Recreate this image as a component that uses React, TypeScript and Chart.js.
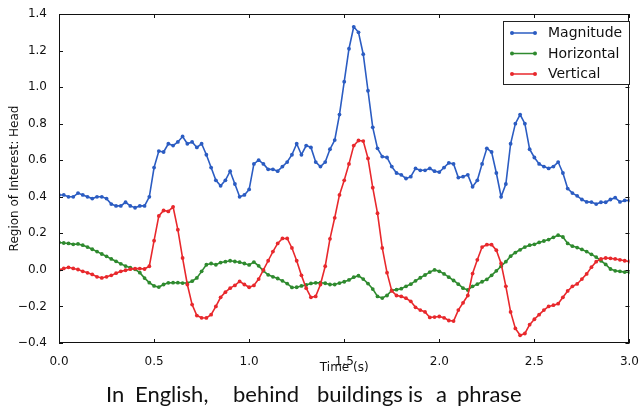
import React, { useEffect, useRef } from 'react';
import { Chart, registerables } from 'chart.js';

Chart.register(...registerables);

const timeValues = [
  0, 0.025, 0.05, 0.075, 0.1, 0.125, 0.15, 0.175, 0.2, 0.225,
  0.25, 0.275, 0.3, 0.325, 0.35, 0.375, 0.4, 0.425, 0.45, 0.475,
  0.5, 0.525, 0.55, 0.575, 0.6, 0.625, 0.65, 0.675, 0.7, 0.725,
  0.75, 0.775, 0.8, 0.825, 0.85, 0.875, 0.9, 0.925, 0.95, 0.975,
  1.0, 1.025, 1.05, 1.075, 1.1, 1.125, 1.15, 1.175, 1.2, 1.225,
  1.25, 1.275, 1.3, 1.325, 1.35, 1.375, 1.4, 1.425, 1.45, 1.475,
  1.5, 1.525, 1.55, 1.575, 1.6, 1.625, 1.65, 1.675, 1.7, 1.725,
  1.75, 1.775, 1.8, 1.825, 1.85, 1.875, 1.9, 1.925, 1.95, 1.975,
  2.0, 2.025, 2.05, 2.075, 2.1, 2.125, 2.15, 2.175, 2.2, 2.225,
  2.25, 2.275, 2.3, 2.325, 2.35, 2.375, 2.4, 2.425, 2.45, 2.475,
  2.5, 2.525, 2.55, 2.575, 2.6, 2.625, 2.65, 2.675, 2.7, 2.725,
  2.75, 2.775, 2.8, 2.825, 2.85, 2.875, 2.9, 2.925, 2.95, 2.975,
  3.0,
];

const magnitude = [
  0.41, 0.41, 0.40, 0.40, 0.42, 0.41, 0.40, 0.39, 0.40, 0.40,
  0.39, 0.36, 0.35, 0.35, 0.37, 0.35, 0.34, 0.35, 0.35, 0.40,
  0.56, 0.65, 0.645, 0.69, 0.68, 0.70, 0.73, 0.69, 0.70, 0.67,
  0.69, 0.63, 0.56, 0.49, 0.46, 0.49, 0.54, 0.47, 0.40, 0.41,
  0.44, 0.58, 0.60, 0.58, 0.55, 0.55, 0.54, 0.565, 0.59, 0.63,
  0.69, 0.63, 0.68, 0.67, 0.59, 0.565, 0.59, 0.66, 0.71, 0.85,
  1.03, 1.21, 1.33, 1.30, 1.18, 0.98, 0.78, 0.665, 0.62, 0.615,
  0.565, 0.53, 0.52, 0.50, 0.51, 0.555, 0.545, 0.545, 0.555, 0.54,
  0.535, 0.56, 0.585, 0.58, 0.505, 0.51, 0.52, 0.455, 0.49, 0.58,
  0.665, 0.645, 0.53, 0.40, 0.47, 0.69, 0.80, 0.85, 0.80, 0.66,
  0.615, 0.58, 0.565, 0.555, 0.565, 0.59, 0.53, 0.445, 0.42, 0.405,
  0.385, 0.372, 0.371, 0.36, 0.37, 0.37, 0.385, 0.395, 0.372, 0.38,
  0.38,
];

const horizontal = [
  0.15, 0.147, 0.145, 0.14, 0.142, 0.135, 0.125, 0.113, 0.10, 0.087,
  0.074, 0.06, 0.047, 0.033, 0.021, 0.012, 0.003, -0.015, -0.045, -0.07,
  -0.088, -0.094, -0.08, -0.071, -0.07, -0.07, -0.072, -0.072, -0.062, -0.044,
  -0.008, 0.028, 0.035, 0.028, 0.04, 0.045, 0.05, 0.046, 0.042, 0.035,
  0.027, 0.043, 0.022, -0.005, -0.027, -0.038, -0.047, -0.06, -0.075, -0.096,
  -0.095, -0.088, -0.082, -0.074, -0.071, -0.07, -0.073, -0.08, -0.08, -0.072,
  -0.065, -0.055, -0.04, -0.032, -0.05, -0.075, -0.105, -0.145, -0.154, -0.14,
  -0.112, -0.108, -0.103, -0.09, -0.078, -0.06, -0.043, -0.028, -0.012, 0.0,
  -0.008, -0.022, -0.04, -0.058, -0.078, -0.1, -0.11, -0.09, -0.078, -0.065,
  -0.052, -0.03, -0.005, 0.02, 0.045, 0.075, 0.095, 0.11, 0.125, 0.135,
  0.14, 0.15, 0.158, 0.166, 0.178, 0.19, 0.18, 0.145, 0.13, 0.122,
  0.112, 0.1, 0.085, 0.07, 0.05, 0.03, 0.005, -0.005, -0.008, -0.012,
  -0.013,
];

const vertical = [
  0.0, 0.008, 0.014, 0.008, 0.002, -0.008, -0.016, -0.025, -0.038, -0.044,
  -0.038, -0.03, -0.018, -0.008, -0.002, 0.004, 0.007, 0.007, 0.005, 0.02,
  0.16, 0.295, 0.325, 0.32, 0.345, 0.22, 0.065, -0.08, -0.19, -0.25,
  -0.262, -0.263, -0.245, -0.2, -0.15, -0.122, -0.1, -0.085, -0.063, -0.08,
  -0.095, -0.085, -0.05, 0.0, 0.05, 0.1, 0.145, 0.172, 0.172, 0.12,
  0.05, -0.03, -0.1, -0.15, -0.145, -0.08, 0.02, 0.17, 0.285, 0.41,
  0.49, 0.58, 0.68, 0.708, 0.705, 0.61, 0.45, 0.31, 0.12, -0.015,
  -0.115, -0.14, -0.145, -0.155, -0.172, -0.205, -0.22, -0.23, -0.26, -0.258,
  -0.255, -0.262, -0.277, -0.28, -0.22, -0.18, -0.14, -0.02, 0.055, 0.125,
  0.138, 0.138, 0.108, 0.035, -0.09, -0.23, -0.32, -0.358, -0.348, -0.30,
  -0.27, -0.245, -0.22, -0.2, -0.193, -0.185, -0.15, -0.115, -0.09, -0.077,
  -0.05, -0.022, 0.015, 0.045, 0.06, 0.065, 0.063, 0.06, 0.055, 0.05,
  0.046,
];

const seriesNames = ['Magnitude', 'Horizontal', 'Vertical'];
const seriesColors = ['#2b5cc2', '#2e8a2e', '#e8282c'];

const captionWords = ['In', 'English,', 'behind', 'buildings', 'is', 'a', 'phrase'];
const captionLefts = [106, 135, 233, 317, 408, 436, 457];

const xTitle = 'Time (s)';
const yTitle = 'Region of Interest: Head';

const fmt = (v: number) => {
  const n = Number(v);
  if (Math.abs(n) < 1e-9) return '0.0';
  const s = Math.abs(n).toFixed(1);
  return n < 0 ? '\u2212' + s : s;
};

const framePlugin = {
  id: 'frameAndLegend',
  afterDraw(chart: any) {
    const ctx = chart.ctx;
    const a = chart.chartArea;
    ctx.save();
    ctx.strokeStyle = '#111';
    ctx.lineWidth = 1;
    ctx.strokeRect(Math.round(a.left) + 0.5, Math.round(a.top) + 0.5, Math.round(a.right - a.left) - 1, Math.round(a.bottom - a.top) - 1);
    const tl = 4;
    const xs = chart.scales.x;
    const ys = chart.scales.y;
    ctx.beginPath();
    xs.ticks.forEach((t: any) => {
      const px = Math.round(xs.getPixelForValue(t.value)) + 0.5;
      ctx.moveTo(px, a.bottom);
      ctx.lineTo(px, a.bottom - tl);
      ctx.moveTo(px, a.top);
      ctx.lineTo(px, a.top + tl);
    });
    ys.ticks.forEach((t: any) => {
      const py = Math.round(ys.getPixelForValue(t.value)) + 0.5;
      ctx.moveTo(a.left, py);
      ctx.lineTo(a.left + tl, py);
      ctx.moveTo(a.right, py);
      ctx.lineTo(a.right - tl, py);
    });
    ctx.stroke();
    const bx = 503.5, by = 21.5, bw = 126, bh = 63;
    ctx.fillStyle = '#fff';
    ctx.fillRect(bx, by, bw, bh);
    ctx.strokeStyle = '#222';
    ctx.strokeRect(bx, by, bw, bh);
    const rowsY = [33, 53.5, 74];
    chart.data.datasets.forEach((ds: any, i: number) => {
      const y = rowsY[i];
      ctx.strokeStyle = ds.borderColor;
      ctx.lineWidth = 1.5;
      ctx.beginPath();
      ctx.moveTo(512, y);
      ctx.lineTo(535, y);
      ctx.stroke();
      ctx.fillStyle = ds.borderColor;
      [512, 535].forEach((x) => {
        ctx.beginPath();
        ctx.arc(x, y, 2, 0, Math.PI * 2);
        ctx.fill();
      });
      ctx.fillStyle = '#111';
      ctx.font = '14px "DejaVu Sans"';
      ctx.textBaseline = 'middle';
      ctx.textAlign = 'left';
      ctx.fillText(ds.label, 548, y + 0.5);
    });
    ctx.restore();
  },
};

export default function App() {
  const ref = useRef<HTMLCanvasElement | null>(null);
  useEffect(() => {
    if (!ref.current) return;
    const seriesValues = [magnitude, horizontal, vertical];
    const chart = new Chart(ref.current, {
      type: 'line',
      data: {
        datasets: seriesNames.map((name, i) => ({
          label: name,
          data: timeValues.map((t, j) => ({ x: t, y: seriesValues[i][j] })),
          borderColor: seriesColors[i],
          backgroundColor: seriesColors[i],
          pointBackgroundColor: seriesColors[i],
          borderWidth: 1.6,
          pointRadius: 1.9,
          pointBorderWidth: 0,
          tension: 0,
          fill: false,
          order: 3 - i,
        })),
      },
      options: {
        animation: false,
        responsive: false,
        events: [],
        layout: { padding: { left: 0, right: 12, top: 14, bottom: 0 } },
        plugins: {
          legend: { display: false },
          tooltip: { enabled: false },
        },
        scales: {
          x: {
            type: 'linear',
            min: 0,
            max: 3,
            grid: { display: false },
            border: { display: false },
            ticks: {
              stepSize: 0.5,
              autoSkip: false,
              maxRotation: 0,
              padding: 4,
              color: '#111',
              font: { family: 'DejaVu Sans', size: 12 },
              callback: (v: any) => fmt(v),
            },
            title: {
              display: true,
              text: xTitle,
              color: '#111',
              font: { family: 'DejaVu Sans', size: 12 },
              padding: { top: 0, bottom: 32 },
            },
            afterFit: (s: any) => {
              s.height = 64;
            },
          },
          y: {
            type: 'linear',
            min: -0.4,
            max: 1.4,
            grid: { display: false },
            border: { display: false },
            ticks: {
              stepSize: 0.2,
              padding: 4,
              color: '#111',
              font: { family: 'DejaVu Sans', size: 12 },
              callback: (v: any) => fmt(v),
            },
            title: {
              display: true,
              text: yTitle,
              color: '#111',
              font: { family: 'DejaVu Sans', size: 12 },
              padding: { top: 8, bottom: 0 },
            },
            afterFit: (s: any) => {
              s.width = 59;
            },
          },
        },
      },
      plugins: [framePlugin],
    } as any);
    return () => chart.destroy();
  }, []);

  return (
    <div style={{ position: 'absolute', left: 0, top: 0, width: 643, height: 407, background: '#fff', overflow: 'hidden' }}>
      <canvas ref={ref} width={643} height={407} style={{ display: 'block', width: 643, height: 407 }} />
      {captionWords.map((w, i) => (
        <span
          key={i}
          style={{
            position: 'absolute',
            left: captionLefts[i],
            top: 383,
            fontFamily: 'Lato, "Open Sans", sans-serif',
            fontSize: 22,
            lineHeight: '22px',
            color: '#111',
            whiteSpace: 'pre',
          }}
        >
          {w}
        </span>
      ))}
    </div>
  );
}
